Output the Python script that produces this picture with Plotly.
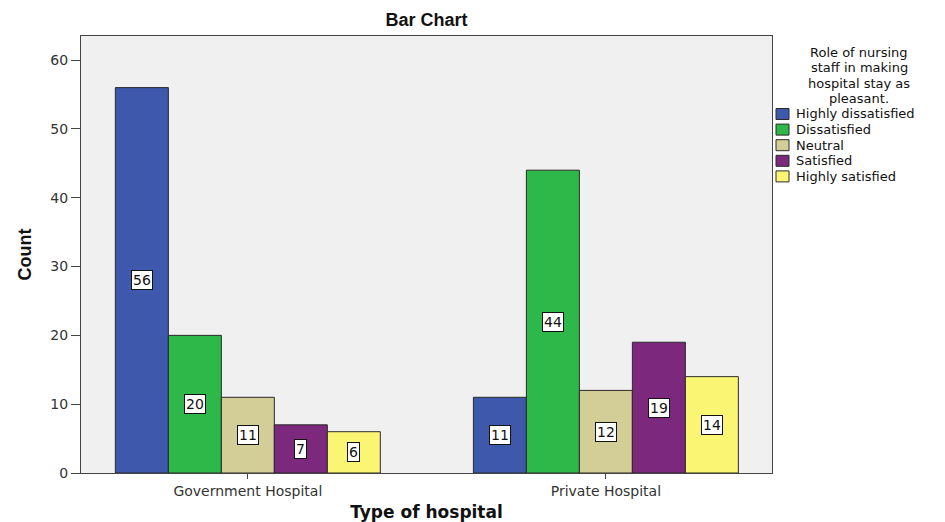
import plotly.graph_objects as go

# Survey counts by hospital type and satisfaction level
hospitals = ["Government Hospital", "Private Hospital"]
levels = ["Highly dissatisfied", "Dissatisfied", "Neutral", "Satisfied", "Highly satisfied"]
counts = {
    "Highly dissatisfied": [56, 11],
    "Dissatisfied": [20, 44],
    "Neutral": [11, 12],
    "Satisfied": [7, 19],
    "Highly satisfied": [6, 14],
}
colors = ["#3E58AC", "#2FB84A", "#D3CE97", "#7B287D", "#FBF574"]
legend_title_lines = ["Role of nursing", "staff in making", "hospital stay as", "pleasant."]

W, H = 945, 522
ML, MR, MT, MB = 81, 173, 36, 49
PW, PH = W - ML - MR, H - MT - MB


def px_x(px):
    """Pixel column -> paper x."""
    return (px - ML) / PW


def px_y(py):
    """Pixel row -> paper y."""
    return (H - MB - py) / PH


bargap = 0.26
n = len(levels)
bar_w = (1 - bargap) / n

fig = go.Figure()
for i, lvl in enumerate(levels):
    fig.add_trace(go.Bar(
        name=lvl,
        x=hospitals,
        y=counts[lvl],
        marker=dict(color=colors[i], line=dict(color="#2a2a2a", width=1)),
        showlegend=False,
    ))
    # value labels in boxed white tags at bar mid-height
    for g, v in enumerate(counts[lvl]):
        fig.add_annotation(
            x=g + (i - (n - 1) / 2) * bar_w, y=v / 2, xref="x", yref="y",
            text=str(v), showarrow=False,
            font=dict(family="DejaVu Sans", size=14, color="#111"),
            bgcolor="white", bordercolor="#111", borderwidth=1, borderpad=1,
        )

# Legend block to the right of the plot: centred title lines, then swatches
LEG_FONT = 13
LEG_STEP = 15.6
for k, line in enumerate(legend_title_lines):
    fig.add_annotation(
        x=px_x(859), y=px_y(52 + k * LEG_STEP), xref="paper", yref="paper",
        xanchor="center", yanchor="middle", align="center", showarrow=False,
        borderpad=0, text=line,
        font=dict(family="DejaVu Sans", size=LEG_FONT, color="#111"),
    )
for i, lvl in enumerate(levels):
    cy = 114 + i * LEG_STEP
    fig.add_shape(
        type="rect", xref="paper", yref="paper",
        x0=px_x(776), x1=px_x(789), y0=px_y(cy - 5.5), y1=px_y(cy + 5.5),
        fillcolor=colors[i], line=dict(color="#2a2a2a", width=1),
    )
    fig.add_annotation(
        x=px_x(795), y=px_y(cy), xref="paper", yref="paper",
        xanchor="left", yanchor="middle", showarrow=False,
        borderpad=0, text=lvl,
        font=dict(family="DejaVu Sans", size=LEG_FONT, color="#111"),
    )

axis_font = dict(family="DejaVu Sans", size=14, color="#333")
fig.update_layout(
    width=W, height=H,
    margin=dict(l=ML, r=MR, t=MT, b=MB, autoexpand=False),
    paper_bgcolor="white", plot_bgcolor="#F0F0F0",
    barmode="group", bargap=bargap, bargroupgap=0,
    showlegend=False,
    title=dict(text="<b>Bar Chart</b>", x=0.5, xref="paper", y=0.962, yref="container",
               yanchor="middle", font=dict(family="Liberation Sans", size=18, color="#111")),
    xaxis=dict(
        range=[-0.466, 1.464], showline=True, linecolor="#444", linewidth=1, mirror=True,
        ticks="outside", ticklen=5, tickcolor="#444", tickfont=axis_font,
        showgrid=False, zeroline=False, automargin=False,
        title=dict(text="<b>Type of hospital</b>", standoff=12,
                   font=dict(family="DejaVu Sans", size=17, color="#111")),
    ),
    yaxis=dict(
        range=[0, 63.5], tickvals=[0, 10, 20, 30, 40, 50, 60],
        showline=True, linecolor="#444", linewidth=1, mirror=True,
        ticks="outside", ticklen=9, tickcolor="#444", tickfont=axis_font,
        showgrid=False, zeroline=False, automargin=False,
        title=dict(text="<b>Count</b>", standoff=14,
                   font=dict(family="Liberation Sans", size=18, color="#111")),
    ),
)

fig.write_html("out.html")
